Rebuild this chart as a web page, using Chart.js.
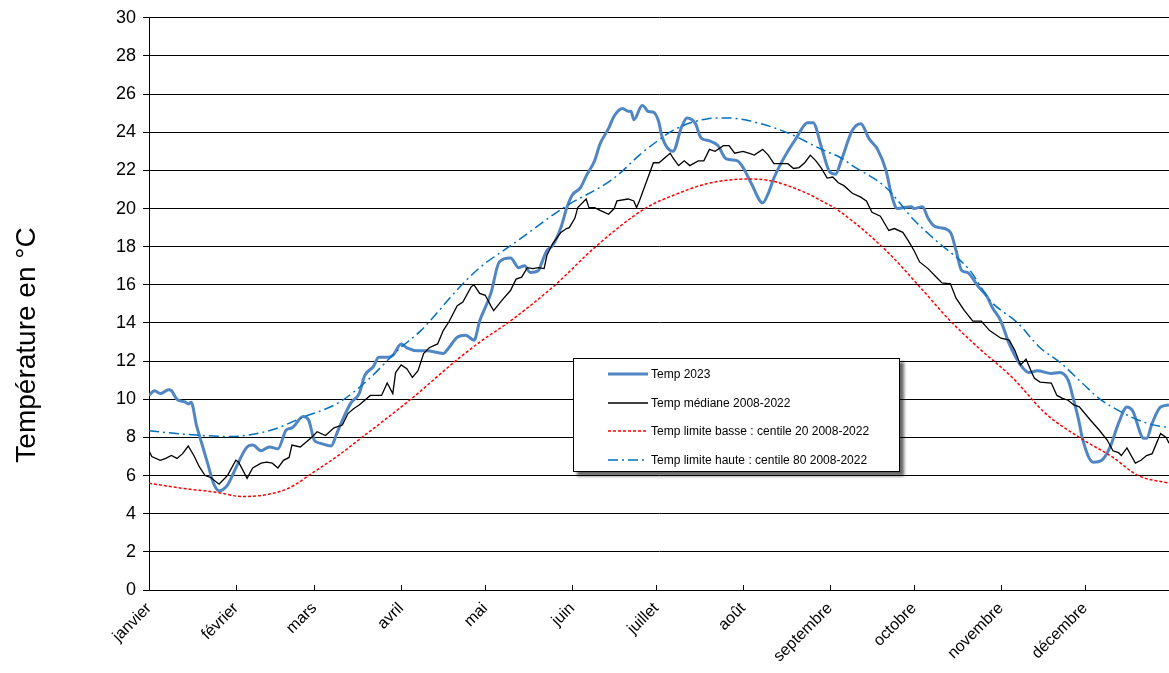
<!DOCTYPE html>
<html lang="fr">
<head>
<meta charset="utf-8">
<title>Température 2023</title>
<script src="https://cdn.jsdelivr.net/npm/chart.js@4.4.1/dist/chart.umd.min.js"></script>
<style>
  body { margin: 0; background: #fff; }
  #wrap { position: relative; width: 1169px; height: 673px; }
  #legend {
    position: absolute; left: 573px; top: 358px; width: 325px; height: 112px;
    border: 1px solid #000; background: #fff;
    box-shadow: 4px 4px 3px rgba(0, 0, 0, 0.6);
    font-family: "Liberation Sans", Arial, sans-serif; font-size: 12px; color: #000;
  }
  #legend .item { position: absolute; left: 34px; height: 28px; display: flex; align-items: center; white-space: nowrap; }
  #legend svg { margin-right: 3px; }
</style>
</head>
<body>
<div id="wrap">
  <canvas id="chart" width="1169" height="673"></canvas>
  <div id="legend"></div>
</div>
<script>
// --- Data: [jour de l'année, °C] ---

const monthStarts = [1, 32, 60, 91, 121, 152, 182, 213, 244, 274, 305, 335]
const monthNames = ['janvier', 'février', 'mars', 'avril', 'mai', 'juin', 'juillet', 'août', 'septembre', 'octobre', 'novembre', 'décembre']

const temp2023 = [
  [1, 10.2], [3, 10.45], [5, 10.3], [8, 10.5], [9, 10.45], [11, 10.0], [14, 9.85], [15, 9.75], [16, 9.85],
  [18, 8.6], [20, 7.6], [22, 6.6], [24, 5.6], [26, 5.2], [29, 5.5], [32, 6.4], [36, 7.5], [38, 7.6],
  [41, 7.3], [44, 7.5], [47, 7.4], [50, 8.4], [52, 8.5], [56, 9.1], [58, 8.9], [60, 7.85], [62, 7.7],
  [66, 7.55], [68, 8.2], [70, 8.9], [73, 9.8], [76, 10.3], [78, 11.25], [81, 11.7], [83, 12.2], [86, 12.2],
  [88, 12.3], [91, 12.9], [93, 12.7], [97, 12.55], [100, 12.55], [106, 12.4], [108, 12.7], [111, 13.25],
  [114, 13.35], [117, 13.1], [119, 14.1], [123, 15.55], [126, 17.2], [130, 17.4], [133, 16.9], [135, 17.0],
  [137, 16.65], [140, 16.75], [141, 17.1], [143, 17.8], [145, 18.05], [148, 19.0], [150, 20.0], [152, 20.7],
  [155, 21.1], [157, 21.7], [160, 22.5], [162, 23.4], [165, 24.2], [167, 24.85], [170, 25.25], [172, 25.1],
  [173, 25.1], [174, 24.65], [177, 25.4], [178, 25.3], [179, 25.1], [181, 25.05], [183, 24.5], [184, 23.8],
  [188, 23.0], [191, 24.25], [193, 24.75], [196, 24.45], [198, 23.7], [201, 23.55], [204, 23.3], [207, 22.6],
  [211, 22.5], [213, 22.15], [216, 21.3], [220, 20.3], [222, 20.8], [224, 21.6], [227, 22.5], [232, 23.7],
  [236, 24.5], [238, 24.5], [241, 23.2], [244, 21.9], [246, 21.8], [248, 22.5], [252, 24.1], [255, 24.45],
  [258, 23.65], [261, 23.1], [264, 22.0], [266, 20.7], [268, 20.0], [273, 20.1], [274, 20.0], [277, 20.1],
  [279, 19.5], [281, 19.1], [283, 19.0], [287, 18.75], [289, 17.8], [291, 16.75], [293, 16.65], [297, 15.9],
  [300, 15.4], [302, 14.8], [305, 14.1], [308, 12.9], [312, 11.8], [315, 11.4], [318, 11.5], [323, 11.35],
  [326, 11.4], [329, 11.0], [331, 9.95], [333, 8.75], [334, 8.0], [338, 6.7], [341, 6.8], [344, 7.5],
  [347, 8.75], [350, 9.6], [352, 9.4], [356, 7.95], [357, 7.95], [359, 8.75], [362, 9.6], [365, 9.7]
]

const median = [
  [1, 7.3], [2, 7.0], [5, 6.8], [7, 6.9], [9, 7.05], [11, 6.9], [13, 7.15], [15, 7.55], [17, 7.05], [19, 6.45],
  [21, 6.0], [23, 5.9], [26, 5.55], [29, 6.0], [32, 6.8], [33, 6.7], [36, 5.85], [38, 6.4], [41, 6.65], [43, 6.7],
  [45, 6.65], [47, 6.4], [49, 6.8], [51, 6.95], [52, 7.6], [55, 7.5], [57, 7.75], [59, 8.0], [61, 8.3], [64, 8.1],
  [67, 8.5], [70, 8.65], [72, 9.25], [74, 9.5], [76, 9.7], [80, 10.2], [82, 10.2], [84, 10.2], [86, 10.85],
  [88, 10.3], [89, 11.4], [91, 11.8], [93, 11.6], [95, 11.15], [97, 11.5], [99, 12.4], [101, 12.7], [104, 12.9],
  [106, 13.6], [108, 14.05], [111, 14.9], [113, 15.1], [116, 15.9], [117, 16.0], [119, 15.55], [121, 15.45],
  [123, 14.9], [124, 14.65], [127, 15.2], [130, 15.7], [132, 16.3], [134, 16.4], [136, 16.9], [138, 16.85],
  [140, 16.9], [142, 16.85], [143, 17.55], [145, 18.15], [148, 18.75], [150, 18.95], [151, 19.0], [153, 19.5],
  [154, 20.05], [157, 20.5], [158, 20.05], [160, 20.05], [162, 19.9], [165, 19.7], [167, 20.0], [168, 20.4],
  [172, 20.5], [174, 20.4], [175, 20.05], [176, 20.4], [179, 21.6], [181, 22.4], [183, 22.4], [185, 22.65],
  [187, 22.9], [188, 22.65], [190, 22.25], [192, 22.5], [194, 22.25], [197, 22.5], [199, 22.5], [201, 23.1],
  [203, 23.0], [206, 23.3], [208, 23.3], [210, 22.9], [213, 23.0], [215, 22.9], [217, 22.8], [220, 23.1],
  [222, 22.8], [224, 22.35], [227, 22.35], [229, 22.35], [231, 22.1], [233, 22.15], [235, 22.4], [237, 22.8],
  [239, 22.5], [241, 22.1], [243, 21.6], [245, 21.65], [247, 21.35], [249, 21.2], [252, 20.8], [255, 20.6],
  [257, 20.4], [259, 19.8], [262, 19.6], [265, 18.85], [267, 18.95], [270, 18.75], [272, 18.3], [274, 17.8],
  [276, 17.2], [279, 16.85], [282, 16.4], [284, 16.1], [287, 16.05], [289, 15.3], [292, 14.65], [295, 14.1],
  [298, 14.1], [301, 13.6], [305, 13.2], [308, 13.1], [310, 12.55], [312, 11.8], [314, 12.1], [316, 11.4],
  [317, 11.1], [319, 10.9], [323, 10.85], [325, 10.2], [327, 10.05], [329, 9.95], [331, 9.7], [333, 9.6],
  [337, 8.9], [340, 8.4], [343, 7.85], [345, 7.3], [347, 7.2], [348, 7.05], [350, 7.45], [353, 6.65],
  [355, 6.8], [357, 7.05], [359, 7.15], [362, 8.2], [364, 8.0], [365, 7.7]
]

const centile20 = [
  [1, 5.6], [12, 5.35], [26, 5.1], [34, 4.9], [43, 5.0], [51, 5.35], [60, 6.2], [69, 7.1], [77, 8.0],
  [94, 9.95], [112, 12.2], [120, 13.1], [129, 14.0], [146, 16.0], [160, 17.95], [178, 20.0], [190, 20.8],
  [200, 21.3], [215, 21.55], [223, 21.45], [235, 20.85], [241, 20.4], [247, 19.9], [264, 17.8], [276, 15.9],
  [287, 14.1], [297, 12.7], [309, 11.15], [321, 9.25], [333, 8.0], [345, 6.95], [354, 6.0], [365, 5.6]
]

const centile80 = [
  [1, 8.35], [15, 8.15], [30, 8.05], [45, 8.4], [55, 9.0], [69, 9.85], [79, 11.0], [90, 12.6], [98, 13.6],
  [112, 15.9], [119, 16.9], [126, 17.65], [131, 18.15], [149, 20.05], [167, 21.6], [176, 22.8], [183, 23.6],
  [188, 24.1], [200, 24.7], [207, 24.75], [218, 24.5], [230, 23.9], [241, 23.1], [248, 22.65], [252, 22.25],
  [264, 21.1], [274, 19.4], [282, 18.3], [294, 16.75], [301, 15.2], [311, 14.0], [319, 12.7], [326, 11.95],
  [334, 10.85], [340, 10.05], [349, 9.25], [357, 8.75], [365, 8.5]
]

const yMin = 0
const yMax = 30
const yStep = 2

// --- Helpers ---

const FONT = '"Liberation Sans", Arial, sans-serif'
const toPoints = arr => arr.map(([x, y]) => ({ x, y }))

// x-axis tick marks point up into the plot, as in the original
const innerTicks = {
  id: 'innerTicks',
  afterDraw(chart) {
    const xs = chart.scales.x
    const ctx = chart.ctx
    const bottom = chart.chartArea.bottom
    ctx.save()
    ctx.strokeStyle = '#000'
    ctx.lineWidth = 1
    xs.ticks.forEach(t => {
      const px = Math.round(xs.getPixelForValue(t.value)) + 0.5
      ctx.beginPath()
      ctx.moveTo(px, bottom)
      ctx.lineTo(px, bottom - 5)
      ctx.stroke()
    })
    ctx.restore()
  }
}

const chart = new Chart(document.getElementById('chart'), {
  type: 'line',
  data: {
    datasets: [
      {
        label: 'Temp 2023', data: toPoints(temp2023), order: 4,
        borderColor: '#4f86c3', borderWidth: 3, tension: 0.4, cubicInterpolationMode: 'monotone'
      },
      {
        label: 'Temp médiane 2008-2022', data: toPoints(median), order: 3,
        borderColor: '#000000', borderWidth: 1.3, tension: 0
      },
      {
        label: 'Temp limite basse : centile 20 2008-2022', data: toPoints(centile20), order: 2,
        borderColor: '#ff0000', borderWidth: 1.5, borderDash: [3, 2], tension: 0.4, cubicInterpolationMode: 'monotone'
      },
      {
        label: 'Temp limite haute : centile 80 2008-2022', data: toPoints(centile80), order: 1,
        borderColor: '#0070c0', borderWidth: 1.5, borderDash: [10, 4, 2, 4], tension: 0.4, cubicInterpolationMode: 'monotone'
      }
    ]
  },
  options: {
    responsive: false,
    animation: false,
    events: [],
    elements: { point: { radius: 0 } },
    layout: { padding: { top: 17, right: 0, bottom: 0, left: 0 } },
    plugins: {
      legend: { display: false },
      tooltip: { enabled: false },
      title: {
        display: true, position: 'left', text: 'Température en °C', color: '#000',
        font: { family: FONT, size: 28, weight: 'normal', lineHeight: '34px' },
        padding: { top: 10, bottom: 0 }
      }
    },
    scales: {
      x: {
        type: 'linear', min: 1, max: 365,
        afterBuildTicks: scale => { scale.ticks = monthStarts.map(v => ({ value: v })) },
        afterFit: scale => { scale.height = 83 },
        grid: { display: false, drawTicks: false },
        border: { display: true, color: '#000', width: 1 },
        ticks: {
          autoSkip: false, maxRotation: 45, minRotation: 45, padding: 9, color: '#000',
          font: { family: FONT, size: 16 },
          callback: v => monthNames[monthStarts.indexOf(v)]
        }
      },
      y: {
        min: yMin, max: yMax,
        afterFit: scale => { scale.width = 105 },
        grid: { color: '#000', lineWidth: 1, tickLength: 6 },
        border: { display: true, color: '#000', width: 1 },
        ticks: { stepSize: yStep, padding: 7, color: '#000', font: { family: FONT, size: 18 } }
      }
    }
  },
  plugins: [innerTicks]
})

// --- Legend box (HTML, built from the datasets) ---

const legendEl = document.getElementById('legend')
chart.data.datasets.forEach((ds, i) => {
  const row = document.createElement('div')
  row.className = 'item'
  row.style.top = (1 + i * 28.5) + 'px'
  const dash = (ds.borderDash || []).join(',')
  row.innerHTML = '<svg width="40" height="6"><line x1="0" y1="3" x2="40" y2="3" stroke="' + ds.borderColor +
    '" stroke-width="' + ds.borderWidth + '"' + (dash ? ' stroke-dasharray="' + dash + '"' : '') + '/></svg>' +
    '<span>' + ds.label + '</span>'
  legendEl.appendChild(row)
})
</script>
</body>
</html>
